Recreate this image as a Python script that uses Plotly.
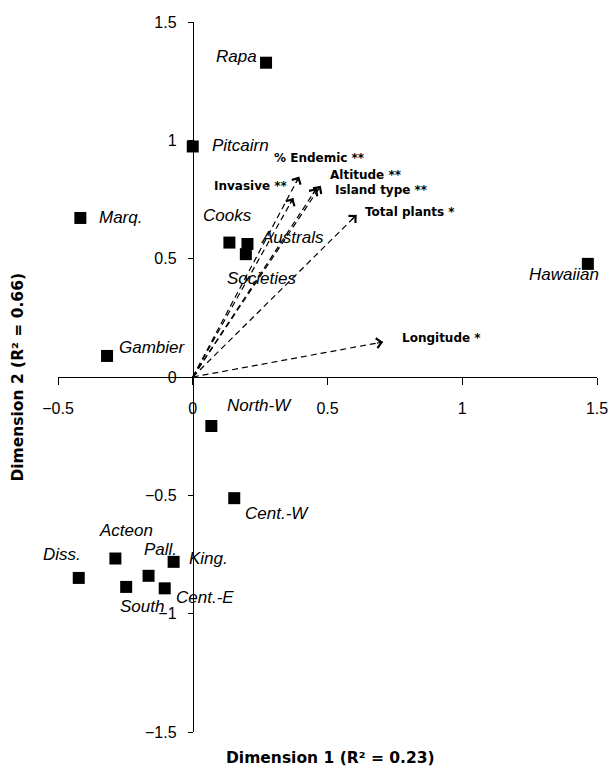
import plotly.graph_objects as go

# ---------------- data ----------------
islands = ["Rapa", "Pitcairn", "Marq.", "Cooks", "Australs", "Societies", "Hawaiian",
           "Gambier", "North-W", "Cent.-W", "Acteon", "Diss.", "Pall.", "King.",
           "South", "Cent.-E"]
dim1 = [0.272, 0.0, -0.417, 0.136, 0.203, 0.197, 1.466,
        -0.318, 0.069, 0.154, -0.287, -0.423, -0.164, -0.071,
        -0.247, -0.104]
dim2 = [1.328, 0.974, 0.672, 0.568, 0.562, 0.519, 0.478,
        0.089, -0.207, -0.512, -0.767, -0.849, -0.840, -0.781,
        -0.887, -0.893]

vectors = ["% Endemic **", "Invasive **", "Island type **", "Altitude **",
           "Total plants *", "Longitude *"]
vec_d1 = [0.395, 0.373, 0.460, 0.475, 0.608, 0.706]
vec_d2 = [0.847, 0.756, 0.798, 0.808, 0.685, 0.148]

x_ticks = [-0.5, 0, 0.5, 1, 1.5]
y_ticks = [-1.5, -1, -0.5, 0, 0.5, 1, 1.5]

x_title = "Dimension 1 (R² = 0.23)"
y_title = "Dimension 2 (R² = 0.66)"

# ---------------- label placement (pixel offsets from the point) ----------------
island_lab = {
    "Rapa": (-7, 6, "right"), "Pitcairn": (17, 1, "left"), "Marq.": (17, 0, "left"),
    "Cooks": (-28, 27, "left"), "Australs": (12, 6, "left"), "Societies": (-21, -24, "left"),
    "Hawaiian": (13, -11, "right"), "Gambier": (10, 8, "left"), "North-W": (14, 20, "left"),
    "Cent.-W": (9, -15, "left"), "Acteon": (-18, 28, "left"), "Diss.": (4, 23, "right"),
    "Pall.": (-7, 26, "left"), "King.": (13, 3, "left"), "South": (-8, -20, "left"),
    "Cent.-E": (9, -9, "left"),
}
vec_lab = {
    "% Endemic **": (-27, 19, "left"), "Invasive **": (-3, 12, "right"),
    "Island type **": (16, -2, "left"), "Altitude **": (7, 11, "left"),
    "Total plants *": (6, 3, "left"), "Longitude *": (17, 4, "left"),
}

FONT = "Liberation Sans, Arial, sans-serif"
BOLD = "DejaVu Sans, Liberation Sans, Arial, sans-serif"

fig = go.Figure()

# dashed vector shafts
sx, sy = [], []
for a, b in zip(vec_d1, vec_d2):
    sx += [0, a, None]
    sy += [0, b, None]
fig.add_trace(go.Scatter(x=sx, y=sy, mode="lines", hoverinfo="skip",
                         line=dict(color="black", width=1.2, dash="6px,4px")))

# island points
fig.add_trace(go.Scatter(x=dim1, y=dim2, mode="markers", text=islands,
                         marker=dict(symbol="square", size=12, color="black")))

ann = []
for n, a, b in zip(islands, dim1, dim2):
    dx, dy, anc = island_lab[n]
    ann.append(dict(x=a, y=b, xref="x", yref="y", text=n, showarrow=False,
                    xanchor=anc, yanchor="middle", xshift=dx, yshift=dy,
                    font=dict(family=FONT, size=17, color="black", style="italic")))

for n, a, b in zip(vectors, vec_d1, vec_d2):
    # arrow head
    ann.append(dict(x=a, y=b, xref="x", yref="y", ax=a * 0.96, ay=b * 0.96,
                    axref="x", ayref="y", text="", showarrow=True, arrowhead=4,
                    arrowsize=1.6, arrowwidth=1.2, arrowcolor="black"))
    dx, dy, anc = vec_lab[n]
    ann.append(dict(x=a, y=b, xref="x", yref="y", text=n, showarrow=False,
                    xanchor=anc, yanchor="middle", xshift=dx, yshift=dy,
                    font=dict(family=BOLD, size=12, color="black", weight="bold")))

# axis titles
ann.append(dict(x=0.505, y=-0.037, xref="paper", yref="paper", text=x_title,
                showarrow=False, xanchor="center", yanchor="middle",
                font=dict(family=BOLD, size=15.5, color="black", weight="bold")))
ann.append(dict(x=-0.075, y=0.5, xref="paper", yref="paper", text=y_title,
                showarrow=False, xanchor="center", yanchor="middle", textangle=-90,
                font=dict(family=BOLD, size=15.5, color="black", weight="bold")))

tickfont = dict(family=FONT, size=16, color="black")
fig.update_layout(
    width=608, height=760,
    margin=dict(l=49.5, r=18.5, t=14.25, b=36.25, autoexpand=False),
    plot_bgcolor="white", paper_bgcolor="white",
    showlegend=False,
    annotations=ann,
    xaxis=dict(range=[-0.5, 1.5], anchor="free", position=0.5, domain=[0, 1],
               automargin=False,
               showline=True, linecolor="black", linewidth=1,
               ticks="outside", ticklen=7, tickcolor="black", tickwidth=1,
               tickvals=x_ticks, showgrid=False, zeroline=False,
               tickfont=tickfont, ticklabelstandoff=10),
    yaxis=dict(range=[-1.5, 1.5], anchor="free", position=0.25, domain=[0, 1],
               automargin=False,
               showline=True, linecolor="black", linewidth=1,
               ticks="outside", ticklen=5, tickcolor="black", tickwidth=1,
               tickvals=y_ticks, showgrid=False, zeroline=False,
               tickfont=tickfont, ticklabelstandoff=8),
)

fig.write_html("out.html")
